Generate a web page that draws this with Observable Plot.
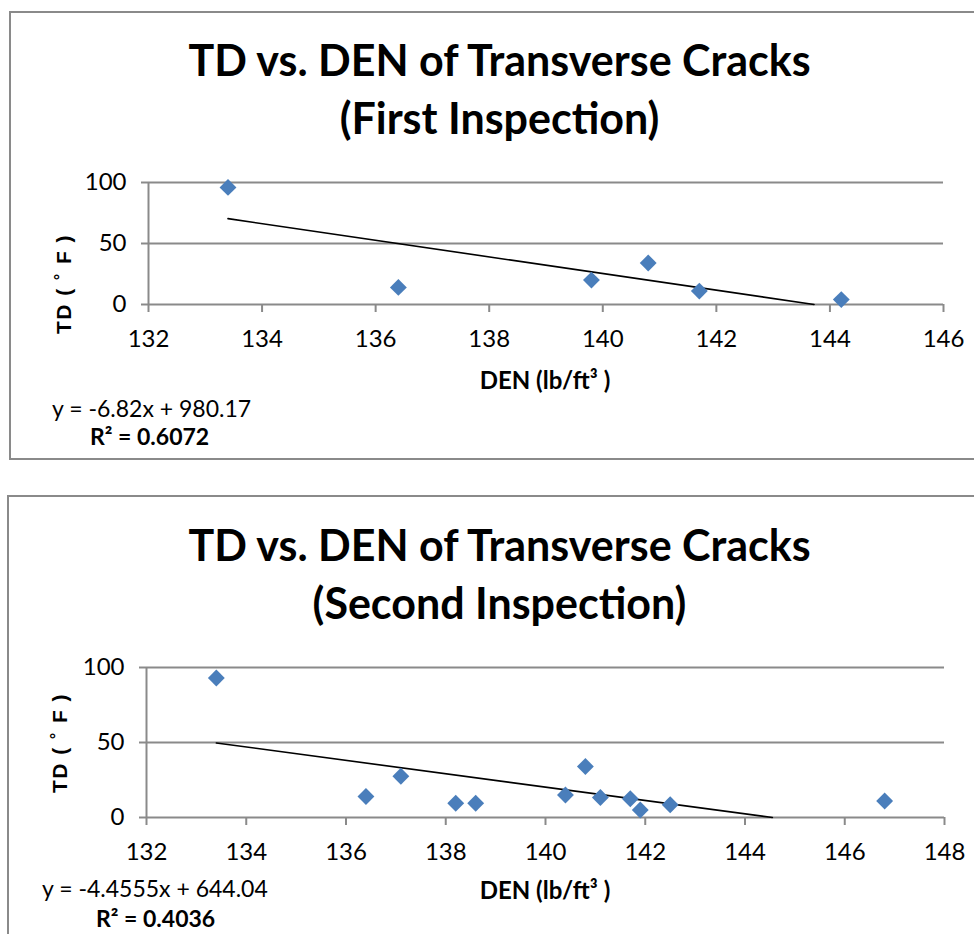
<!DOCTYPE html>
<html><head><meta charset="utf-8">
<script src="https://cdn.jsdelivr.net/npm/d3@7"></script>
<script src="https://cdn.jsdelivr.net/npm/@observablehq/plot@0.6"></script>
<style>
body{margin:0;width:974px;height:934px;position:relative;overflow:hidden;background:#fff;font-family:Lato,"Open Sans",sans-serif;color:#000;}
.panel{position:absolute;border:2px solid #8a8a8a;box-sizing:border-box;background:#fff;}
.title{position:absolute;left:12px;width:975px;text-align:center;font-weight:bold;font-size:43px;line-height:58px;white-space:nowrap;}
.t{position:absolute;white-space:nowrap;line-height:1;}
.plot{position:absolute;left:0;}
</style></head><body>
<div class="panel" style="left:9px;top:11px;width:990px;height:449px"></div>
<div class="panel" style="left:7px;top:495px;width:990px;height:500px"></div>
<script>
// ---- data ----
const titles1 = ["TD vs. DEN of Transverse Cracks", "(First Inspection)"];
const titles2 = ["TD vs. DEN of Transverse Cracks", "(Second Inspection)"];
const xLabel = "DEN (lb/ft³ )";
const yLabel = "TD ( ˚ F )";

const den1 = [133.4, 136.4, 139.8, 140.8, 141.7, 144.2];
const td1  = [96, 14, 20, 34, 11, 4];
const slope1 = -6.82, intercept1 = 980.17;
const eq1 = "y = -6.82x + 980.17";
const r2_1 = "R² = 0.6072";
const xTicks1 = [132, 134, 136, 138, 140, 142, 144, 146];

const den2 = [133.4, 136.4, 137.1, 138.2, 138.6, 140.4, 140.8, 141.1, 141.7, 141.9, 142.5, 146.8];
const td2  = [93, 14, 27.5, 9.5, 9.5, 15, 34, 13.3, 12.5, 5, 8.5, 11];
const slope2 = -4.4555, intercept2 = 644.04;
const eq2 = "y = -4.4555x + 644.04";
const r2_2 = "R² = 0.4036";
const xTicks2 = [132, 134, 136, 138, 140, 142, 144, 146, 148];

const yTicks = [0, 50, 100];

function addText(txt, css){
  const d = document.createElement("div");
  d.className = "t"; d.textContent = txt; d.style.cssText += css;
  document.body.appendChild(d); return d;
}
function addTitle(lines, top){
  const d = document.createElement("div");
  d.className = "title"; d.style.top = top + "px";
  lines.forEach(l => { const e = document.createElement("div"); e.textContent = l; d.appendChild(e); });
  document.body.appendChild(d);
}

function chart({den, td, slope, intercept, xTicks, top, ml, mr, mt, plotH, h}){
  const data = den.map((d, i) => ({den: d, td: td[i]}));
  const x0 = d3.min(den), xEnd = -intercept / slope;
  const trend = [x0, xEnd].map(x => ({den: x, td: slope * x + intercept}));
  const p = Plot.plot({
    width: 974, height: h,
    marginLeft: ml, marginRight: mr, marginTop: mt, marginBottom: h - mt - plotH,
    style: {fontFamily: "Lato, sans-serif", background: "transparent", overflow: "visible"},
    x: {domain: [xTicks[0], xTicks[xTicks.length - 1]]},
    y: {domain: [0, 100]},
    marks: [
      Plot.ruleY(yTicks, {stroke: "#8a8a8a", strokeWidth: 2}),
      Plot.ruleX([xTicks[0]], {stroke: "#8a8a8a", strokeWidth: 2}),
      Plot.axisX({ticks: xTicks, tickSize: 8, tickPadding: 17, stroke: "#8a8a8a", strokeWidth: 2, color: "black", fontSize: 24, label: null}),
      Plot.axisY({ticks: yTicks, tickSize: 7, tickPadding: 15, stroke: "#8a8a8a", strokeWidth: 2, color: "black", fontSize: 24, label: null}),
      Plot.line(trend, {x: "den", y: "td", stroke: "black", strokeWidth: 1.6}),
      Plot.dot(data, {x: "den", y: "td", symbol: "diamond2", r: 7.6, fill: "#4a7ebb", stroke: "none"})
    ]
  });
  p.classList.add("plot");
  p.style.top = top + "px";
  document.body.appendChild(p);
}

addTitle(titles1, 31);
chart({den: den1, td: td1, slope: slope1, intercept: intercept1, xTicks: xTicks1, top: 150, ml: 148, mr: 31, mt: 32, plotH: 122, h: 260});
addText(xLabel, "left:545px;top:380px;transform:translate(-50%,-50%);font-weight:bold;font-size:24px;");
addText(yLabel, "left:63px;top:284px;transform:translate(-50%,-50%) rotate(-90deg);font-weight:bold;font-size:21px;letter-spacing:1.5px;font-family:'Liberation Sans',sans-serif;");
addText(eq1, "left:52px;top:408px;transform:translateY(-50%);font-size:23px;");
addText(r2_1, "left:90px;top:436px;transform:translateY(-50%);font-size:23px;font-weight:bold;");

addTitle(titles2, 516);
chart({den: den2, td: td2, slope: slope2, intercept: intercept2, xTicks: xTicks2, top: 630, ml: 146, mr: 30, mt: 37, plotH: 150, h: 260});
addText(xLabel, "left:545px;top:890px;transform:translate(-50%,-50%);font-weight:bold;font-size:24px;");
addText(yLabel, "left:59px;top:743px;transform:translate(-50%,-50%) rotate(-90deg);font-weight:bold;font-size:21px;letter-spacing:1.5px;font-family:'Liberation Sans',sans-serif;");
addText(eq2, "left:42px;top:888px;transform:translateY(-50%);font-size:23px;");
addText(r2_2, "left:96px;top:918px;transform:translateY(-50%);font-size:23px;font-weight:bold;");
</script>
</body></html>
